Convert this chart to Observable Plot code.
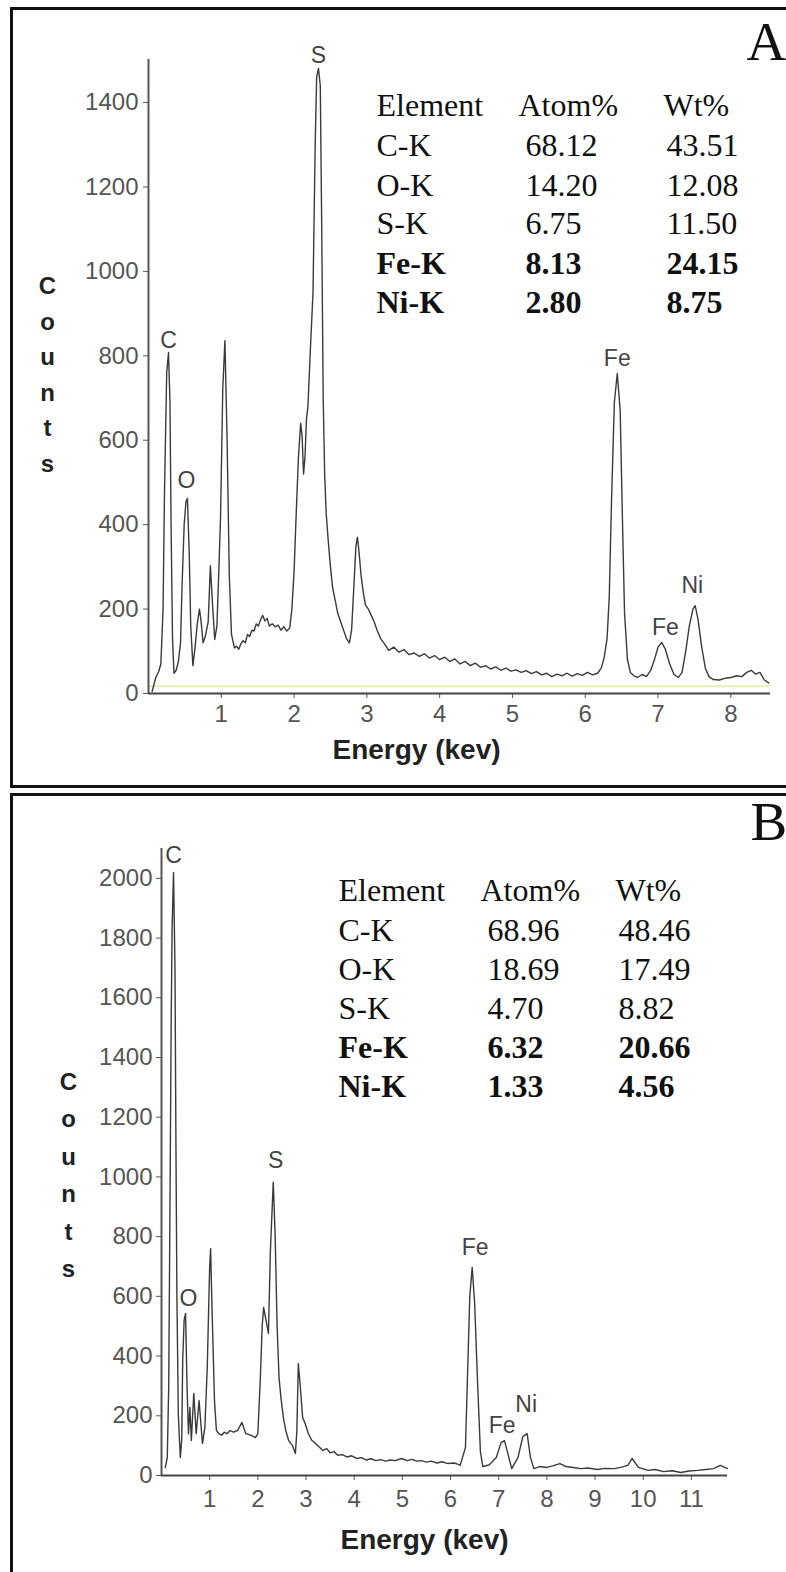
<!DOCTYPE html>
<html><head><meta charset="utf-8">
<script src="https://cdn.jsdelivr.net/npm/d3@7"></script>
<script src="https://cdn.jsdelivr.net/npm/@observablehq/plot@0.6"></script>
<style>
html,body{margin:0;padding:0;background:#fff;}
#page{position:relative;width:786px;height:1572px;overflow:hidden;background:#fff;}
.chart{position:absolute;left:0;}
.frame{position:absolute;left:10px;border:3px solid #111;border-right:none;pointer-events:none;}
</style></head><body>
<div id="page">
<div id="chartA" class="chart" style="top:0"></div>
<div id="chartB" class="chart" style="top:790px"></div>
<div class="frame" style="top:7px;width:776px;height:775px"></div>
<div class="frame" style="top:793px;width:776px;height:790px;border-bottom:none"></div>
</div>
<script>
// ---------- Panel A data ----------
const energyA = [0.05,0.10,0.14,0.17,0.20,0.22,0.25,0.275,0.295,0.31,0.33,0.35,0.38,0.41,0.44,0.46,0.49,0.515,0.535,0.56,0.58,0.61,0.64,0.67,0.70,0.72,0.75,0.78,0.82,0.85,0.88,0.91,0.94,0.97,0.99,1.02,1.05,1.08,1.11,1.14,1.18,1.21,1.24,1.27,1.30,1.33,1.36,1.39,1.42,1.45,1.48,1.51,1.54,1.57,1.60,1.63,1.66,1.70,1.74,1.78,1.82,1.86,1.90,1.94,1.97,2.00,2.03,2.06,2.09,2.11,2.13,2.15,2.17,2.19,2.22,2.26,2.29,2.31,2.335,2.36,2.38,2.40,2.42,2.44,2.47,2.50,2.53,2.56,2.60,2.64,2.68,2.72,2.76,2.79,2.82,2.85,2.87,2.89,2.92,2.95,2.98,3.02,3.06,3.10,3.14,3.19,3.24,3.30,3.37,3.44,3.51,3.58,3.65,3.72,3.79,3.86,3.93,4.00,4.07,4.14,4.21,4.28,4.35,4.42,4.49,4.56,4.63,4.70,4.77,4.84,4.91,4.98,5.05,5.12,5.19,5.26,5.33,5.40,5.47,5.54,5.61,5.68,5.75,5.82,5.89,5.96,6.03,6.10,6.17,6.22,6.26,6.30,6.33,6.36,6.40,6.44,6.48,6.51,6.54,6.58,6.62,6.67,6.72,6.78,6.84,6.90,6.95,7.00,7.05,7.10,7.16,7.22,7.28,7.33,7.38,7.43,7.48,7.51,7.55,7.60,7.65,7.70,7.76,7.84,7.92,8.00,8.08,8.15,8.22,8.28,8.34,8.40,8.46,8.52];
const countsA = [5,38,52,70,200,480,760,808,690,400,130,48,55,75,120,250,400,455,462,330,160,66,110,165,200,175,120,135,170,303,210,128,160,310,420,720,836,600,280,140,108,112,105,118,125,120,140,135,150,148,165,160,175,185,172,178,160,165,158,162,150,158,148,155,200,290,430,560,640,610,520,560,650,680,800,950,1300,1460,1481,1440,1100,700,520,430,360,300,250,225,190,170,150,130,120,150,250,350,370,340,280,240,210,200,185,170,150,130,118,102,110,98,104,92,96,88,94,84,90,80,86,76,82,70,76,66,72,62,66,58,63,55,60,53,56,50,54,47,52,44,48,40,46,42,48,41,47,43,50,44,48,60,85,130,230,450,690,758,670,420,190,80,50,42,38,45,40,55,80,110,121,105,70,45,38,50,100,160,200,208,175,110,60,40,33,32,36,38,42,40,50,55,46,50,32,25];
const peakLabelsA = ["C","O","S","Fe","Fe","Ni"];
const peakLabelEnergyA = [0.275,0.52,2.335,6.44,7.10,7.47];
const peakLabelCountsA = [836,505,1511,794,156,256];
const ticksYA = [0,200,400,600,800,1000,1200,1400];
const ticksXA = [1,2,3,4,5,6,7,8];
const elementsA = ["C-K","O-K","S-K","Fe-K","Ni-K"];
const atomA = [68.12,14.20,6.75,8.13,2.80];
const wtA = [43.51,12.08,11.50,24.15,8.75];

// ---------- Panel B data ----------
const energyB = [0.08,0.12,0.15,0.18,0.20,0.22,0.25,0.28,0.30,0.32,0.35,0.39,0.42,0.44,0.47,0.50,0.53,0.56,0.59,0.62,0.67,0.72,0.78,0.85,0.90,0.95,1.00,1.02,1.05,1.10,1.14,1.19,1.25,1.30,1.36,1.42,1.50,1.58,1.67,1.75,1.85,1.95,2.00,2.05,2.09,2.12,2.17,2.22,2.26,2.32,2.36,2.40,2.44,2.48,2.53,2.58,2.64,2.72,2.78,2.81,2.84,2.88,2.93,2.98,3.05,3.12,3.20,3.27,3.35,3.43,3.50,3.58,3.66,3.75,3.85,3.95,4.05,4.15,4.25,4.35,4.45,4.55,4.65,4.75,4.85,4.98,5.10,5.20,5.30,5.40,5.50,5.60,5.72,5.82,5.95,6.07,6.15,6.20,6.31,6.35,6.40,6.45,6.50,6.56,6.62,6.67,6.80,6.95,7.05,7.12,7.18,7.27,7.40,7.50,7.59,7.66,7.73,7.85,8.00,8.12,8.27,8.40,8.55,8.70,8.85,9.05,9.20,9.40,9.55,9.68,9.77,9.90,10.00,10.10,10.25,10.42,10.60,10.78,10.95,11.13,11.30,11.46,11.60,11.75];
const countsB = [27,60,300,1000,1500,1830,2020,1700,1100,600,200,60,120,385,520,543,300,140,228,117,275,140,251,107,160,362,700,760,550,251,151,140,135,145,140,150,145,151,178,140,135,127,140,318,500,563,520,476,750,982,800,500,328,260,194,150,117,100,74,150,375,300,194,175,140,118,107,96,84,90,76,80,68,70,62,66,57,60,52,56,50,53,48,52,50,57,50,54,48,50,45,48,42,46,40,42,38,34,94,318,600,697,580,318,80,30,35,60,110,117,80,23,60,130,140,60,23,30,27,32,40,30,27,23,25,20,24,23,28,34,57,27,22,17,20,13,16,10,15,17,20,23,34,23];
const peakLabelsB = ["C","O","S","Fe","Fe","Ni"];
const peakLabelEnergyB = [0.25,0.56,2.37,6.51,7.07,7.57];
const peakLabelCountsB = [2077,593,1055,764,168,238];
const ticksYB = [0,200,400,600,800,1000,1200,1400,1600,1800,2000];
const ticksXB = [1,2,3,4,5,6,7,8,9,10,11];
const elementsB = ["C-K","O-K","S-K","Fe-K","Ni-K"];
const atomB = [68.96,18.69,4.70,6.32,1.33];
const wtB = [48.46,17.49,8.82,20.66,4.56];

const tableHeaders = ["Element","Atom%","Wt%"];
const highlighted = new Set(["Fe-K","Ni-K"]);

function makePanel(cfg) {
  const L = cfg.layout;
  const data = cfg.energy.map((e, i) => ({e, c: cfg.counts[i]}));
  const labels = cfg.peakLabels.map((t, i) => ({t, e: cfg.peakE[i], c: cfg.peakC[i]}));
  const serif = "Liberation Serif, Times New Roman, serif";
  const anchorText = (txt, px, py, opts) => Plot.text([txt], Object.assign({
    text: d => d, frameAnchor: "top-left", dx: px - L.mL, dy: py - L.mT,
    lineAnchor: "bottom", textAnchor: "start"
  }, opts));
  const marks = [];
  if (cfg.baseline != null) marks.push(Plot.ruleY([cfg.baseline], {stroke: "#ecebb8", strokeWidth: 2}));
  marks.push(Plot.line(data, {x: "e", y: "c", stroke: "#3a3a3a", strokeWidth: 1.4}));
  marks.push(Plot.ruleX([0], {stroke: "#555", strokeWidth: 2}));
  marks.push(Plot.ruleY([0], {stroke: "#444", strokeWidth: 2}));
  marks.push(Plot.text(labels, {x: "e", y: "c", text: "t", fontSize: 23, fill: "#444", lineAnchor: "middle", textAnchor: "middle"}));
  marks.push(anchorText("Counts".split("").join("\n"), L.countsX, L.countsMid, {
    lineAnchor: "middle", textAnchor: "middle", fontWeight: "bold", fontSize: 24, lineHeight: L.countsLH, fill: "#222"}));
  marks.push(anchorText("Energy (kev)", L.labelX, L.labelBase, {textAnchor: "middle", fontWeight: "bold", fontSize: 28, fill: "#222"}));
  marks.push(anchorText(cfg.panel, L.panelX, L.panelBase, {fontFamily: serif, fontSize: 55, fill: "#111"}));
  tableHeaders.forEach((h, j) => marks.push(anchorText(h, L.headX[j], L.base[0], {fontFamily: serif, fontSize: 32, fill: "#111"})));
  cfg.elements.forEach((el, i) => {
    const cells = [el, cfg.atom[i].toFixed(2), cfg.wt[i].toFixed(2)];
    cells.forEach((c, j) => marks.push(anchorText(c, L.valX[j], L.base[i + 1], {
      fontFamily: serif, fontSize: 32, fill: "#111", fontWeight: highlighted.has(el) ? "bold" : "normal"})));
  });
  return Plot.plot({
    width: 786, height: L.H,
    marginLeft: L.mL, marginRight: L.mR, marginTop: L.mT, marginBottom: L.mB,
    style: {background: "transparent", fontFamily: "Liberation Sans, Arial, sans-serif", fontSize: "24px", color: "#555", overflow: "visible"},
    x: {domain: [0, cfg.xMax], ticks: cfg.xTicks, tickFormat: d => String(d), tickSize: 5, tickPadding: L.xPad, label: null},
    y: {domain: [0, cfg.yMax], ticks: cfg.yTicks, tickFormat: d => String(d), tickSize: 5, tickPadding: L.yPad, label: null},
    marks
  });
}

document.getElementById("chartA").appendChild(makePanel({
  energy: energyA, counts: countsA, peakLabels: peakLabelsA, peakE: peakLabelEnergyA, peakC: peakLabelCountsA,
  xMax: 8.545, yMax: 1502, xTicks: ticksXA, yTicks: ticksYA, baseline: 17, panel: "A",
  elements: elementsA, atom: atomA, wt: wtA,
  layout: {H: 790, mL: 148, mR: 16, mT: 59, mB: 97, xPad: 6, yPad: 5,
    countsX: 47, countsMid: 371, countsLH: 1.48, labelX: 416, labelBase: 758,
    panelX: 746, panelBase: 59,
    headX: [376, 518, 663], valX: [376, 525, 666], base: [115, 155, 195, 233, 273, 312]}
}));

document.getElementById("chartB").appendChild(makePanel({
  energy: energyB, counts: countsB, peakLabels: peakLabelsB, peakE: peakLabelEnergyB, peakC: peakLabelCountsB,
  xMax: 11.75, yMax: 2100, xTicks: ticksXB, yTicks: ticksYB, baseline: null, panel: "B",
  elements: elementsB, atom: atomB, wt: wtB,
  layout: {H: 782, mL: 161, mR: 59, mT: 58, mB: 97, xPad: 9, yPad: 4,
    countsX: 68, countsMid: 381, countsLH: 1.56, labelX: 424, labelBase: 758,
    panelX: 750, panelBase: 49,
    headX: [338, 480, 615], valX: [338, 487, 618], base: [110, 150, 189, 228, 267, 306]}
}));
</script>
</body></html>
